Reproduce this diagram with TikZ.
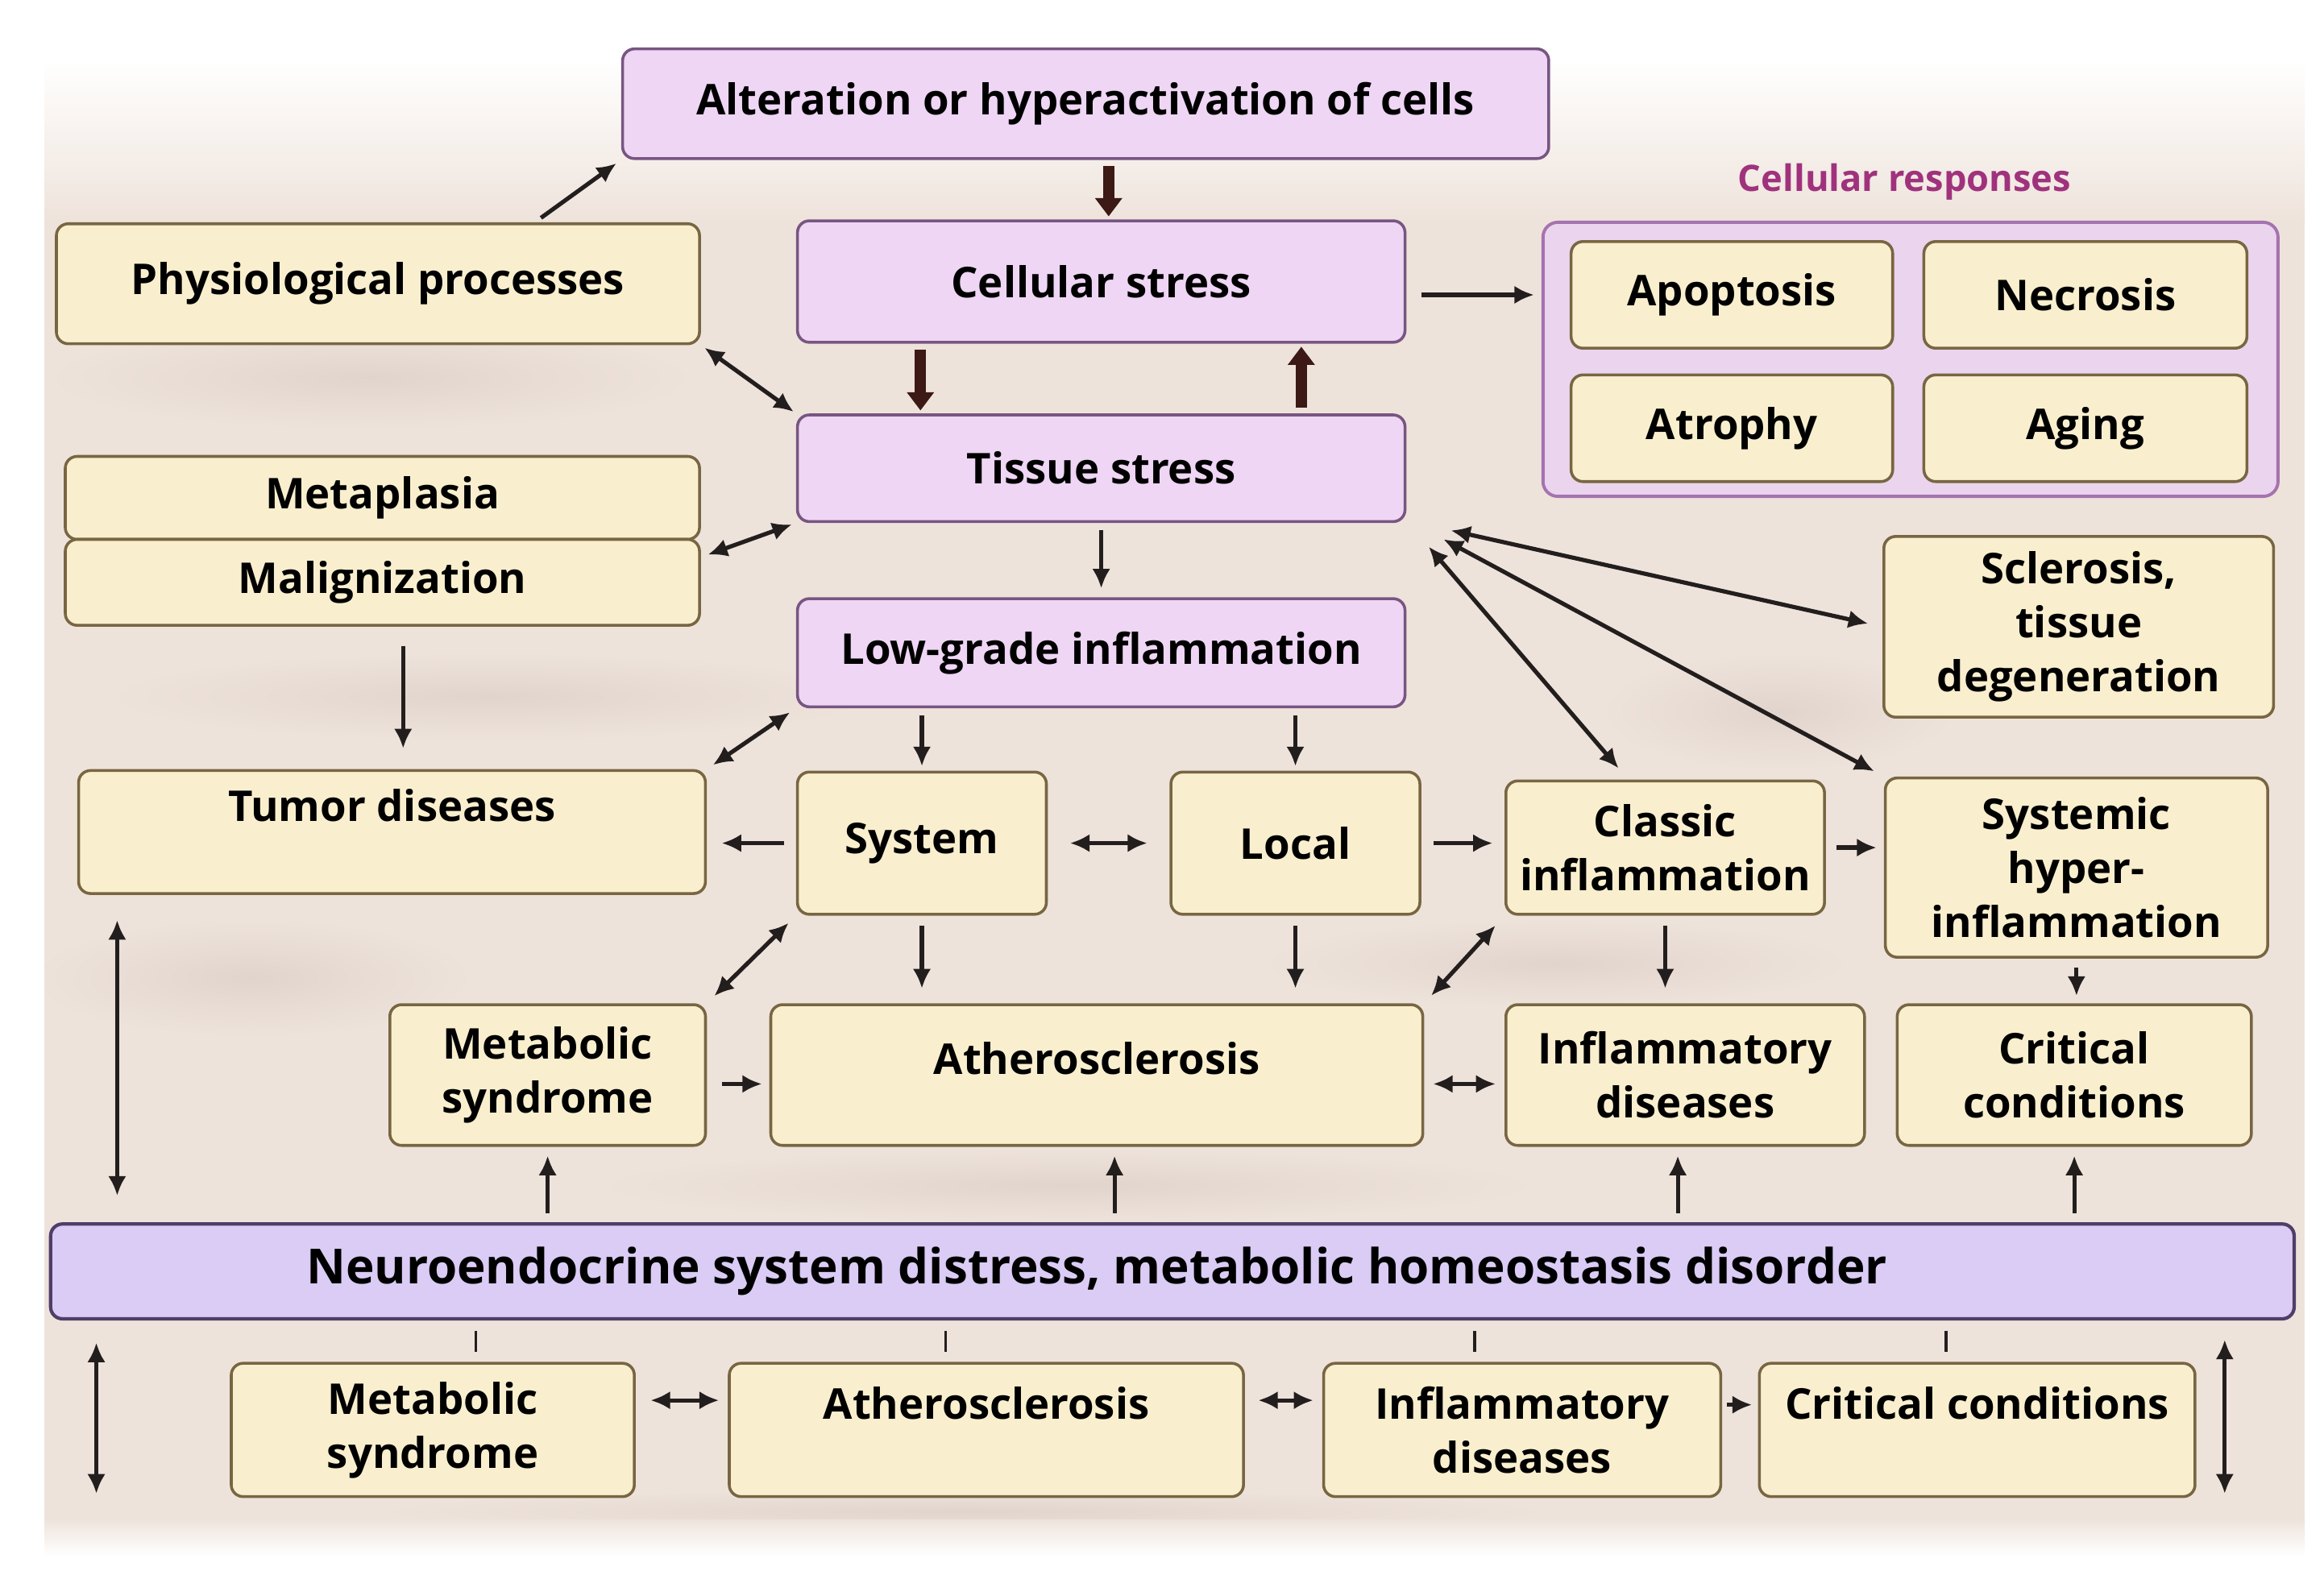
\documentclass[tikz,border=0pt]{standalone}
\usepackage{fontspec}
\setmainfont{Open Sans}
\usetikzlibrary{arrows.meta,calc}
\definecolor{bgc}{RGB}{238,227,219}
\definecolor{blob}{RGB}{225,212,204}
\definecolor{yfill}{RGB}{249,239,206}
\definecolor{ydraw}{RGB}{120,102,66}
\definecolor{pfill}{RGB}{238,214,244}
\definecolor{pdraw}{RGB}{120,85,130}
\definecolor{nfill}{RGB}{218,204,245}
\definecolor{ndraw}{RGB}{80,62,105}
\definecolor{cfill}{RGB}{234,212,238}
\definecolor{cdraw}{RGB}{165,115,175}
\definecolor{lblc}{RGB}{160,50,125}
\definecolor{arrc}{RGB}{35,30,30}
\definecolor{thkc}{RGB}{60,25,20}
\begin{document}
\begin{tikzpicture}[x=0.02cm,y=-0.02cm,
 box/.style={rounded corners=0.16cm, line width=1.1pt, align=center, inner sep=0pt, font=\fontsize{16.3}{20.7}\selectfont\bfseries, text=black},
 ybox/.style={box, fill=yfill, draw=ydraw},
 pbox/.style={box, fill=pfill, draw=pdraw},
 arr/.style={draw=arrc, line width=1.6pt, -{Latex[length=7.5pt,width=7pt]}},
 dbl/.style={draw=arrc, line width=1.6pt, {Latex[length=7.5pt,width=7pt]}-{Latex[length=7.5pt,width=7pt]}},
 thk/.style={draw=thkc, line width=4.2pt, -{Triangle[length=7pt,width=10pt]}},
 tickline/.style={draw=arrc, line width=1.1pt},
]
\useasboundingbox (0,0) rectangle (1568,1060);
\fill[white] (0,0) rectangle (1568,1060);
\shade[top color=white, bottom color=bgc] (30,40) rectangle (1555,150);
\fill[bgc] (30,150) rectangle (1555,1025);
\shade[top color=bgc, bottom color=white] (30,1025) rectangle (1555,1050);
% texture
\begin{scope}
\clip (30,150) rectangle (1555,1025);
\shade[inner color=blob, outer color=bgc] (250,255) ellipse (220 and 35);
\shade[inner color=blob, outer color=bgc] (330,470) ellipse (260 and 30);
\shade[inner color=blob, outer color=bgc] (170,660) ellipse (150 and 40);
\shade[inner color=blob, outer color=bgc] (720,800) ellipse (320 and 25);
\shade[inner color=blob, outer color=bgc] (1050,650) ellipse (200 and 30);
\shade[inner color=blob, outer color=bgc] (1200,480) ellipse (120 and 40);
\shade[inner color=blob, outer color=bgc] (650,1020) ellipse (400 and 15);
\end{scope}

% top
\node[pbox, minimum width=12.5cm, minimum height=1.48cm] (alt) at (732.5,70) {Alteration or hyperactivation of cells};
\node[ybox, minimum width=8.68cm, minimum height=1.62cm] (phys) at (255,191.5) {Physiological processes};
\node[pbox, minimum width=8.2cm, minimum height=1.64cm] (cell) at (743,190) {Cellular stress};

% cellular responses
\node[text=lblc, font=\fontsize{14}{16}\selectfont\bfseries] (resplbl) at (1285,123) {Cellular responses};
\node[draw=cdraw, fill=cfill, rounded corners=0.2cm, line width=1.2pt, minimum width=9.92cm, minimum height=3.7cm, inner sep=0pt] (resp) at (1289,242.5) {};
\node[ybox, minimum width=4.34cm, minimum height=1.44cm] (apop) at (1168.5,199) {Apoptosis};
\node[ybox, minimum width=4.36cm, minimum height=1.44cm] (necr) at (1407,199) {Necrosis};
\node[ybox, minimum width=4.34cm, minimum height=1.44cm] (atro) at (1168.5,289) {Atrophy};
\node[ybox, minimum width=4.36cm, minimum height=1.44cm] (aging) at (1407,289) {Aging};

\node[pbox, minimum width=8.2cm, minimum height=1.44cm] (tissue) at (743,316) {Tissue stress};
\node[ybox, minimum width=8.56cm, minimum height=1.12cm] (meta) at (258,336) {Metaplasia};
\node[ybox, minimum width=8.56cm, minimum height=1.16cm] (malig) at (258,393) {Malignization};
\node[pbox, minimum width=8.2cm, minimum height=1.46cm] (low) at (743,440.5) {Low-grade inflammation};
\node[ybox, minimum width=5.26cm, minimum height=2.44cm] (scler) at (1402.5,423) {Sclerosis,\\tissue\\degeneration};

% middle row
\node[ybox, minimum width=8.46cm, minimum height=1.66cm] (tumor) at (264.5,561.5) {Tumor diseases\\\mbox{}};
\node[ybox, minimum width=3.36cm, minimum height=1.92cm] (system) at (622,569) {System};
\node[ybox, minimum width=3.36cm, minimum height=1.92cm] (local) at (874,569) {Local};
\node[ybox, minimum width=4.3cm, minimum height=1.8cm] (classic) at (1123.5,572) {Classic\\inflammation};
\node[ybox, minimum width=5.16cm, minimum height=2.42cm] (systemic) at (1401,585.5) {Systemic\\hyper-\\inflammation};

\node[ybox, minimum width=4.26cm, minimum height=1.9cm] (metab) at (369.5,725.5) {Metabolic\\syndrome};
\node[ybox, minimum width=8.8cm, minimum height=1.9cm] (ather) at (740,725.5) {Atherosclerosis\\[-8pt]\mbox{}};
\node[ybox, minimum width=4.84cm, minimum height=1.9cm] (infl) at (1137,725.5) {Inflammatory\\diseases};
\node[ybox, minimum width=4.78cm, minimum height=1.9cm] (crit) at (1399.5,725.5) {Critical\\conditions};

% neuro bar
\node[box, fill=nfill, draw=ndraw, line width=1.3pt, font=\fontsize{18.6}{21}\selectfont\bfseries, minimum width=30.28cm, minimum height=1.28cm] (neuro) at (791,858) {Neuroendocrine system distress, metabolic homeostasis disorder\hspace{2.04cm}\mbox{}};

% bottom row
\node[ybox, minimum width=5.44cm, minimum height=1.8cm] (bmetab) at (292,965) {Metabolic\\syndrome};
\node[ybox, minimum width=6.94cm, minimum height=1.8cm] (bather) at (665.5,965) {Atherosclerosis\\\mbox{}};
\node[ybox, minimum width=5.36cm, minimum height=1.8cm] (binfl) at (1027,965) {Inflammatory\\diseases};
\node[ybox, minimum width=5.88cm, minimum height=1.8cm] (bcrit) at (1334,965) {Critical conditions\\\mbox{}};

% arrows top
\draw[arr, shorten >=0.08cm] ([xshift=2.2cm,yshift=0.06cm]phys.north) -- (alt.south west);
\draw[thk, shorten <=0.08cm, shorten >=0.04cm] ([xshift=0.1cm]cell.north |- alt.south) -- ([xshift=0.1cm]cell.north);
\draw[thk, shorten <=0.08cm, shorten >=0.04cm] ([xshift=-2.44cm]cell.south) -- ([xshift=-2.44cm]tissue.north);
\draw[thk, shorten <=0.08cm, shorten >=0.04cm] ([xshift=2.7cm]tissue.north) -- ([xshift=2.7cm]cell.south);
\draw[arr, shorten <=0.2cm, shorten >=0.1cm] ([yshift=-0.18cm]cell.east) -- ([yshift=-0.18cm]cell.east -| resp.west);
\draw[dbl, shorten <=0.06cm, shorten >=0.04cm] (phys.south east) -- (tissue.north west);
\draw[dbl, shorten <=0.1cm, shorten >=0.06cm] ([yshift=0.34cm]malig.east) -- (tissue.south west);
\draw[arr, shorten <=0.1cm, shorten >=0.12cm] (tissue.south) -- (low.north);
\draw[dbl, shorten >=0.2cm] ([xshift=0.6cm,yshift=-0.1cm]tissue.south east) -- (scler.west);
\draw[dbl, shorten >=0.15cm] ([xshift=0.5cm,yshift=-0.22cm]tissue.south east) -- (systemic.north west);
\draw[dbl, shorten >=0.2cm] ([xshift=0.3cm,yshift=-0.32cm]tissue.south east) -- ([xshift=-0.5cm]classic.north);
\draw[arr, shorten <=0.26cm, shorten >=0.28cm] ([xshift=0.28cm]malig.south) -- ([xshift=0.28cm]malig.south |- tumor.north);

% arrows middle
\draw[dbl, shorten <=0.1cm, shorten >=0.1cm] (low.south west) -- (tumor.north east);
\draw[arr, shorten <=0.1cm, shorten >=0.06cm] (low.south -| system.north) -- (system.north);
\draw[arr, shorten <=0.1cm, shorten >=0.06cm] (low.south -| local.north) -- (local.north);
\draw[arr, shorten <=0.16cm, shorten >=0.2cm] (system.west) -- (system.west -| tumor.east);
\draw[dbl, shorten <=0.3cm, shorten >=0.3cm] (system.east) -- (local.west);
\draw[arr, shorten <=0.16cm, shorten >=0.16cm] (local.east) -- (local.east -| classic.west);
\draw[arr, shorten <=0.14cm, shorten >=0.1cm] (classic.east) -- (classic.east -| systemic.west);
\draw[dbl, shorten <=0.14cm, shorten >=0.14cm] (system.south west) -- (metab.north east);
\draw[arr, shorten <=0.14cm, shorten >=0.2cm] (system.south) -- (system.south |- ather.north);
\draw[arr, shorten <=0.14cm, shorten >=0.2cm] (local.south) -- (local.south |- ather.north);
\draw[dbl, shorten <=0.18cm, shorten >=0.14cm] (classic.south west) -- (ather.north east);
\draw[arr, shorten <=0.14cm, shorten >=0.2cm] (classic.south) -- (classic.south |- infl.north);
\draw[arr, shorten <=0.12cm, shorten >=0.1cm] (systemic.south) -- (systemic.south |- crit.north);
\draw[arr, shorten <=0.2cm, shorten >=0.1cm] ([yshift=-0.12cm]metab.east) -- ([yshift=-0.12cm]metab.east -| ather.west);
\draw[dbl, shorten <=0.12cm, shorten >=0.12cm] ([yshift=-0.12cm]ather.east) -- ([yshift=-0.12cm]ather.east -| infl.west);

% vertical to neuro
\draw[dbl, shorten <=0.34cm, shorten >=0.36cm] ([xshift=0.54cm]tumor.south west) -- ([xshift=0.54cm]tumor.south west |- neuro.north);
\draw[arr, shorten <=0.12cm, shorten >=0.12cm] (neuro.north -| metab.south) -- (metab.south);
\draw[arr, shorten <=0.12cm, shorten >=0.12cm] ([xshift=0.24cm]neuro.north -| ather.south) -- ([xshift=0.24cm]ather.south);
\draw[arr, shorten <=0.12cm, shorten >=0.12cm] ([xshift=-0.1cm]neuro.north -| infl.south) -- ([xshift=-0.1cm]infl.south);
\draw[arr, shorten <=0.12cm, shorten >=0.12cm] (neuro.north -| crit.south) -- (crit.south);

% ticks below neuro
\draw[tickline, shorten <=0.14cm, shorten >=0.14cm] ([xshift=0.58cm]bmetab.north) -- ([xshift=0.58cm]bmetab.north |- neuro.south);
\draw[tickline, shorten <=0.14cm, shorten >=0.14cm] ([xshift=-0.55cm]bather.north) -- ([xshift=-0.55cm]bather.north |- neuro.south);
\draw[tickline, shorten <=0.14cm, shorten >=0.14cm] ([xshift=-0.64cm]binfl.north) -- ([xshift=-0.64cm]binfl.north |- neuro.south);
\draw[tickline, shorten <=0.14cm, shorten >=0.14cm] ([xshift=-0.42cm]bcrit.north) -- ([xshift=-0.42cm]bcrit.north |- neuro.south);

% bottom side arrows
\draw[dbl, shorten <=0.3cm, shorten >=0.06cm] ([xshift=0.64cm]neuro.south west) -- ([xshift=0.64cm]neuro.south west |- bmetab.south);
\draw[dbl, shorten <=0.26cm, shorten >=0.06cm] ([xshift=-0.96cm]neuro.south east) -- ([xshift=-0.96cm]neuro.south east |- bcrit.south);
\draw[dbl, shorten <=0.2cm, shorten >=0.12cm] ([yshift=0.4cm]bmetab.east) -- ([yshift=0.4cm]bmetab.east -| bather.west);
\draw[dbl, shorten <=0.18cm, shorten >=0.12cm] ([yshift=0.4cm]bather.east) -- ([yshift=0.4cm]bather.east -| binfl.west);
\draw[arr, shorten <=0.06cm, shorten >=0.08cm] ([yshift=0.34cm]binfl.east) -- ([yshift=0.34cm]binfl.east -| bcrit.west);
\end{tikzpicture}
\end{document}
